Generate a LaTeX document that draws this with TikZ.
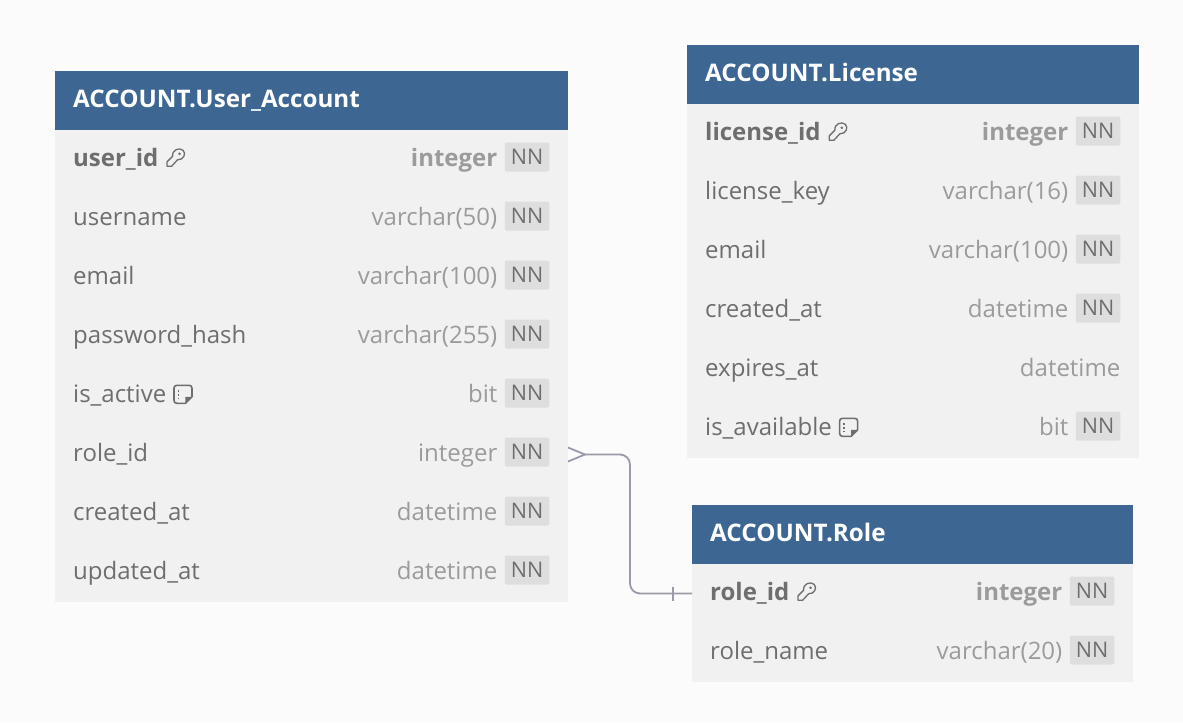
\documentclass[tikz,border=0pt]{standalone}
\usepackage{fontspec}
\usepackage{xcolor}
\usepackage{tikz}
\usetikzlibrary{arrows.meta, positioning, calc}
\setmainfont{Open Sans}
\definecolor{pagecolor}{HTML}{FBFBFB}
\definecolor{headcolor}{HTML}{3D6792}
\definecolor{rowcolor}{HTML}{F1F1F1}
\definecolor{badgecolor}{HTML}{DEDEDE}
\definecolor{fieldcolor}{HTML}{6E6E6E}
\definecolor{typecolor}{HTML}{9B9B9B}
\definecolor{relcolor}{HTML}{9A9AA8}

\begin{document}
\begin{tikzpicture}[
    x=1pt, y=-1pt,
    tblhead/.style={anchor=north west, fill=headcolor, text=white, font=\fontsize{24.2}{28}\selectfont\bfseries, minimum height=59pt, text height=19pt, text depth=5pt, inner xsep=18.2pt, inner ysep=0pt, outer sep=0pt, align=left},
    rowbox/.style={fill=rowcolor, minimum height=59pt, inner sep=0pt, outer sep=0pt},
    fld/.style={anchor=base west, inner sep=0pt, text=fieldcolor, font=\fontsize{24}{28}\selectfont},
    pk/.style={font=\fontsize{24}{28}\selectfont\bfseries},
    plain/.style={},
    typ/.style={anchor=base east, inner sep=0pt, text=typecolor, font=\fontsize{24}{28}\selectfont},
    nn/.style={fill=badgecolor, rounded corners=2pt, minimum width=44.5pt, minimum height=29pt, inner sep=0pt, text=fieldcolor, font=\fontsize{21.5}{24}\selectfont},
    rel/.style={draw=relcolor, line width=1.8pt},
    keyicon/.pic={
        \draw[fieldcolor, line width=1.3pt, line join=round] (-3,-2) .. controls (-3.5,-9) and (4,-11) .. (7.5,-8) .. controls (11,-5) and (8,2) .. (2,1.5) -- (-4,8) -- (-8.5,8) -- (-8.5,3.5) -- cycle;
        \fill[fieldcolor] (4,-4.5) circle (1.4pt);
    },
    noteicon/.pic={
        \draw[fieldcolor, line width=1.6pt, line join=round] (9,2.5) -- (9,-6) .. controls (9,-8) and (8,-9) .. (6,-9) -- (-6,-9) .. controls (-8,-9) and (-9,-8) .. (-9,-6) -- (-9,6) .. controls (-9,8) and (-8,9) .. (-6,9) -- (2.5,9) -- cycle;
        \fill[fieldcolor] (2.5,9) -- (2.5,2.5) -- (9,2.5) -- cycle;
        \draw[fieldcolor, line width=1.5pt, dash pattern=on 1.8pt off 2.2pt] (-4.5,-4.5) -- (-4.5,5);
    },
]
    \fill[pagecolor] (0,0) rectangle (1183,723);
    \path[use as bounding box] (0,0) rectangle (1183,723);

    % user account table
    \node[tblhead, minimum width=513pt, text width=476.6pt, alias=urow0] (uhead) at (55,71) {ACCOUNT.User\_Account};
    \foreach \fname/\tname/\sty [count=\i] in {user\_id/integer/pk, username/varchar(50)/plain, email/varchar(100)/plain, password\_hash/varchar(255)/plain, is\_active/bit/plain, role\_id/integer/plain, created\_at/datetime/plain, updated\_at/datetime/plain} {
        \pgfmathtruncatemacro\j{\i-1}
        \node[rowbox, minimum width=513pt, below=0pt of urow\j] (urow\i) {};
        \node[fld, \sty] (ufld\i) at ($(urow\i.west)+(18,6.8)$) {\fname};
        \node[typ, \sty] (utyp\i) at ($(urow\i.east)+(-70.5,6.8)$) {\tname};
        \node[nn] (unn\i) at ($(urow\i.east)+(-41,-2.5)$) {NN};
    }
    \pic at ($(ufld1.base east)+(17,-8)$) {keyicon};
    \pic at ($(ufld5.base east)+(16.5,-8)$) {noteicon};

    % license table
    \node[tblhead, minimum width=452pt, text width=415.6pt, alias=lrow0] (lhead) at (687,45) {ACCOUNT.License};
    \foreach \fname/\tname/\sty [count=\i] in {license\_id/integer/pk, license\_key/varchar(16)/plain, email/varchar(100)/plain, created\_at/datetime/plain, expires\_at/datetime/plain, is\_available/bit/plain} {
        \pgfmathtruncatemacro\j{\i-1}
        \node[rowbox, minimum width=452pt, below=0pt of lrow\j] (lrow\i) {};
        \node[fld, \sty] (lfld\i) at ($(lrow\i.west)+(18,6.8)$) {\fname};
    }
    \foreach \i/\tname/\sty in {1/integer/pk, 2/varchar(16)/plain, 3/varchar(100)/plain, 4/datetime/plain, 6/bit/plain} {
        \node[typ, \sty] (ltyp\i) at ($(lrow\i.east)+(-70.5,6.8)$) {\tname};
        \node[nn] (lnn\i) at ($(lrow\i.east)+(-41,-2.5)$) {NN};
    }
    \node[typ] (ltyp5) at ($(lrow5.east)+(-18.5,6.8)$) {datetime};
    \pic at ($(lfld1.base east)+(17,-8)$) {keyicon};
    \pic at ($(lfld6.base east)+(16.5,-8)$) {noteicon};

    % role table
    \node[tblhead, minimum width=441pt, text width=404.6pt, alias=rrow0] (rhead) at (692,505) {ACCOUNT.Role};
    \foreach \fname/\tname/\sty [count=\i] in {role\_id/integer/pk, role\_name/varchar(20)/plain} {
        \pgfmathtruncatemacro\j{\i-1}
        \node[rowbox, minimum width=441pt, below=0pt of rrow\j] (rrow\i) {};
        \node[fld, \sty] (rfld\i) at ($(rrow\i.west)+(18,6.8)$) {\fname};
        \node[typ, \sty] (rtyp\i) at ($(rrow\i.east)+(-70.5,6.8)$) {\tname};
        \node[nn] (rnn\i) at ($(rrow\i.east)+(-41,-2.5)$) {NN};
    }
    \pic at ($(rfld1.base east)+(17,-8)$) {keyicon};

    % relation
    \coordinate (crowtip) at ($(urow6.east)+(17,0)$);
    \coordinate (relbend) at ($(urow6.east)+(62,0)$);
    \draw[rel, rounded corners=10pt] (crowtip) -- (relbend) |- (rrow1.west);
    \draw[rel] ($(urow6.east)+(0,-7)$) -- (crowtip) -- ($(urow6.east)+(0,7)$);
    \draw[rel] ($(rrow1.west)+(-19,-7)$) -- ($(rrow1.west)+(-19,7)$);
\end{tikzpicture}
\end{document}
